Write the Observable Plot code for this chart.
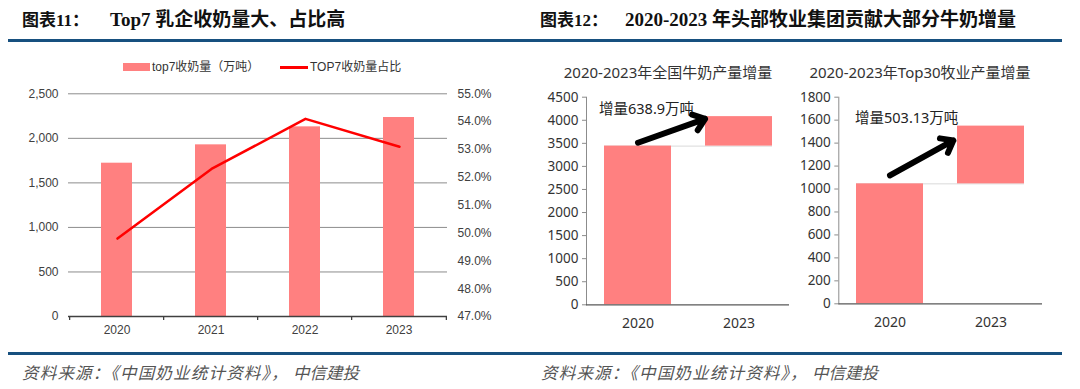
<!DOCTYPE html>
<html><head><meta charset="utf-8">
<script src="https://cdn.jsdelivr.net/npm/d3@7"></script>
<script src="https://cdn.jsdelivr.net/npm/@observablehq/plot@0.6"></script>
<style>
body{margin:0;background:#fff;}
#wrap{position:relative;width:1080px;height:389px;overflow:hidden;background:#fff;font-family:"Liberation Sans",Arial,"Noto Sans CJK SC",sans-serif;}
.abs{position:absolute;white-space:nowrap;}
.tpre{font-weight:bold;font-family:"Liberation Serif","Noto Sans CJK SC",serif;color:#111;font-size:17px;line-height:22px;}
.tbody{font-weight:bold;font-family:"Liberation Serif","Noto Sans CJK SC",serif;color:#111;font-size:19px;line-height:22px;}
.rule{position:absolute;height:3px;background:#17507f;}
.src{font-style:italic;font-size:16.5px;line-height:20px;color:#555;font-family:"Noto Sans CJK SC",sans-serif;}
.sub{font-family:"Noto Sans","Noto Sans CJK SC",sans-serif;font-size:15px;line-height:20px;color:#333;text-align:center;width:300px;}
.leg{font-size:12px;line-height:16px;color:#333;font-family:"Liberation Sans","Noto Sans CJK SC",sans-serif;}
.plotbox{position:absolute;}
.plotbox svg{overflow:visible;background:transparent;}
</style>
</head><body>
<div id="wrap">
  <div class="abs tpre" style="left:22px;top:10px;">图表11：</div>
  <div class="abs tbody" style="left:110px;top:9px;">Top7 乳企收奶量大、占比高</div>
  <div class="abs tpre" style="left:540px;top:10px;">图表12：</div>
  <div class="abs tbody" style="left:625px;top:9px;">2020-2023 年头部牧业集团贡献大部分牛奶增量</div>
  <div class="rule" style="left:8px;top:39px;width:1054px;"></div>
  <div class="rule" style="left:8px;top:352px;width:1054px;"></div>

  <div class="abs src" style="left:22px;top:362px;letter-spacing:1.2px;">资料来源：《中国奶业统计资料》，</div>
  <div class="abs src" style="left:293px;top:362px;">中信建投</div>
  <div class="abs src" style="left:541px;top:362px;letter-spacing:1.2px;">资料来源：《中国奶业统计资料》，</div>
  <div class="abs src" style="left:812px;top:362px;">中信建投</div>

  <div class="abs" style="left:123px;top:63px;width:27px;height:8px;background:#ff8080;"></div>
  <div class="abs leg" style="left:152px;top:59px;">top7收奶量（万吨）</div>
  <div class="abs" style="left:280px;top:66px;width:28px;height:2.5px;background:#ff0000;"></div>
  <div class="abs leg" style="left:310px;top:59px;">TOP7收奶量占比</div>

  <div class="abs sub" style="left:518px;top:62px;">2020-2023年全国牛奶产量增量</div>
  <div class="abs sub" style="left:770px;top:62px;">2020-2023年Top30牧业产量增量</div>

  <div id="leftBars" class="plotbox" style="left:0;top:50px;"></div>
  <div id="leftLine" class="plotbox" style="left:0;top:50px;"></div>
  <div id="natChart" class="plotbox" style="left:540px;top:50px;"></div>
  <div id="topChart" class="plotbox" style="left:790px;top:50px;"></div>
</div>
<script>
// ---- data ----
const years = ["2020", "2021", "2022", "2023"];
const top7Volume = [1721, 1927, 2129, 2234];        // 万吨
const top7Share = [49.8, 52.3, 54.1, 53.1];          // %
const leftTicks = [0, 500, 1000, 1500, 2000, 2500];
const rightTicks = [47, 48, 49, 50, 51, 52, 53, 54, 55];

const wfYears = ["2020", "2023"];
const nationalBase = 3440;
const nationalIncrease = 638.9;
const nationalTicks = [0, 500, 1000, 1500, 2000, 2500, 3000, 3500, 4000, 4500];
const nationalLabel = "增量638.9万吨";

const top30Base = 1045;
const top30Increase = 503.13;
const top30Ticks = [0, 200, 400, 600, 800, 1000, 1200, 1400, 1600, 1800];
const top30Label = "增量503.13万吨";

// ---- left chart: bars ----
const volData = years.map((y, i) => ({year: y, v: top7Volume[i]}));
const shareData = years.map((y, i) => ({year: y, s: top7Share[i]}));
const leftDims = {width: 540, height: 300, marginLeft: 68, marginRight: 93, marginTop: 43.3, marginBottom: 34};
const leftStyle = {background: "transparent", overflow: "visible", fontFamily: "Liberation Sans, Arial, sans-serif", fontSize: "12px", color: "#404040"};
const halfStep = (540 - 68 - 93) / years.length / 2;

document.getElementById("leftBars").append(Plot.plot({
  ...leftDims,
  style: leftStyle,
  x: {domain: years, paddingInner: 0.67, paddingOuter: 0.335, label: null},
  y: {domain: [0, 2500], label: null},
  marks: [
    Plot.ruleY(leftTicks.filter(d => d > 0), {stroke: "#8c8c8c", strokeWidth: 1}),
    Plot.barY(volData, {x: "year", y: "v", fill: "#ff8080"}),
    Plot.axisY({ticks: leftTicks, tickSize: 0, tickPadding: 10, tickFormat: d3.format(","), label: null, fill: "#404040"}),
    Plot.axisX({tickSize: 0, tickPadding: 9, label: null, fill: "#404040"}),
    Plot.ruleY([0], {stroke: "#404040", strokeWidth: 1.3}),
    Plot.ruleX(years, {x: d => d, y1: 0, y2: 0, insetBottom: -4, dx: -halfStep, stroke: "#404040", strokeWidth: 1.3}),
    Plot.ruleX(years.slice(-1), {x: d => d, y1: 0, y2: 0, insetBottom: -4, dx: halfStep, stroke: "#404040", strokeWidth: 1.3})
  ]
}));

// ---- left chart: share line (right axis) ----
document.getElementById("leftLine").append(Plot.plot({
  ...leftDims,
  style: leftStyle,
  x: {domain: years, paddingInner: 0.67, paddingOuter: 0.335, label: null, axis: null},
  y: {domain: [47, 55], label: null},
  marks: [
    Plot.line(shareData, {x: "year", y: "s", stroke: "#ff0000", strokeWidth: 2.5}),
    Plot.axisY({anchor: "right", ticks: rightTicks, tickSize: 0, tickPadding: 10, tickFormat: d => d.toFixed(1) + "%", label: null, fill: "#404040"})
  ]
}));

// ---- waterfall charts ----
function waterfall({base, inc, ticks, max, label, labelY, labelDx, arrowY1, arrowY2, arrowInset, dims}) {
  const bars = [
    {year: wfYears[0], y1: 0, y2: base},
    {year: wfYears[1], y1: base, y2: base + inc}
  ];
  return Plot.plot({
    ...dims,
    style: {background: "transparent", overflow: "visible", fontFamily: "Noto Sans, sans-serif", fontSize: "13.5px", color: "#404040"},
    x: {domain: wfYears, paddingInner: 0.337, paddingOuter: 0.168, label: null},
    y: {domain: [0, max], label: null},
    marks: [
      Plot.ruleY([{a: wfYears[0], b: wfYears[1], y: base}], {x1: "a", x2: "b", y: "y", stroke: "#d9d9d9", strokeWidth: 1}),
      Plot.barY(bars, {x: "year", y1: "y1", y2: "y2", fill: "#ff8080"}),
      Plot.frame({anchor: "left", stroke: "#8c8c8c"}),
      Plot.ruleY([0], {stroke: "#595959", strokeWidth: 1.2}),
      Plot.axisY({ticks: ticks, tickSize: 4, tickPadding: 4, label: null, tickFormat: d => String(d), fill: "#333", stroke: "#8c8c8c"}),
      Plot.axisX({tickSize: 0, tickPadding: 13, label: null, fill: "#333", fontSize: 14}),
      Plot.text([{x: wfYears[0], y: labelY, t: label}], {x: "x", y: "y", text: "t", textAnchor: "start", dx: labelDx, fontSize: 14.5, fill: "#222", fontFamily: "Noto Sans, Noto Sans CJK SC, sans-serif"}),
      Plot.arrow([{x1: wfYears[0], y1: arrowY1, x2: wfYears[1], y2: arrowY2}], {x1: "x1", y1: "y1", x2: "x2", y2: "y2", stroke: "#000", strokeWidth: 6, headLength: 3.4, headAngle: 75, insetEnd: arrowInset})
    ]
  });
}

document.getElementById("natChart").append(waterfall({
  base: nationalBase, inc: nationalIncrease, ticks: nationalTicks, max: 4500,
  label: nationalLabel, labelY: 4233, labelDx: -39,
  arrowY1: 3512, arrowY2: 4294, arrowInset: 36,
  dims: {width: 270, height: 290, marginLeft: 46, marginRight: 21, marginTop: 46.7, marginBottom: 35.7}
}));

document.getElementById("topChart").append(waterfall({
  base: top30Base, inc: top30Increase, ticks: top30Ticks, max: 1800,
  label: top30Label, labelY: 1612, labelDx: -35,
  arrowY1: 1118, arrowY2: 1605, arrowInset: 43,
  dims: {width: 290, height: 290, marginLeft: 48.3, marginRight: 38, marginTop: 46.7, marginBottom: 36.7}
}));
</script>
</body></html>
